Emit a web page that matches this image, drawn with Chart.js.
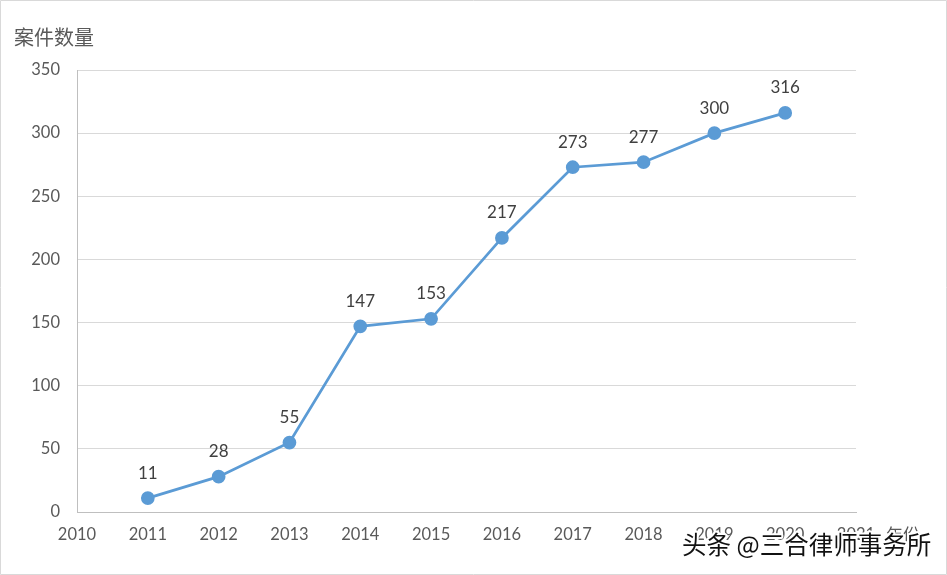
<!DOCTYPE html>
<html>
<head>
<meta charset="utf-8">
<script src="https://cdn.jsdelivr.net/npm/chart.js@4"></script>
<style>
  html, body { margin: 0; padding: 0; background: #fff; }
  #wrap { width: 947px; height: 575px; position: relative; }
</style>
</head>
<body>
<div id="wrap"><canvas id="lineChart" width="947" height="575"></canvas></div>
<script>
// Daten
const years = [2011, 2012, 2013, 2014, 2015, 2016, 2017, 2018, 2019, 2020];
const cases = [11, 28, 55, 147, 153, 217, 273, 277, 300, 316];
const yTitle = '案件数量';
const xTitle = '年份';
const watermark = '头条 @三合律师事务所';

const numFont = "'Lato', 'Noto Sans CJK SC', sans-serif";
const cjkFont = "'Noto Sans CJK SC', sans-serif";

// Beschriftungen, Achsentitel und Wasserzeichen
const extras = {
  id: 'extras',
  afterDatasetsDraw(chart) {
    const ctx = chart.ctx;
    const meta = chart.getDatasetMeta(0);
    ctx.save();
    ctx.font = '17px ' + numFont;
    ctx.fillStyle = '#404040';
    ctx.textAlign = 'center';
    ctx.textBaseline = 'middle';
    meta.data.forEach((pt, i) => {
      ctx.fillText(String(cases[i]), pt.x, pt.y - 25);
    });
    ctx.restore();
  },
  afterDraw(chart) {
    const ctx = chart.ctx;
    ctx.save();
    ctx.font = '20px ' + cjkFont;
    ctx.fillStyle = '#595959';
    ctx.textBaseline = 'middle';
    ctx.textAlign = 'left';
    ctx.fillText(yTitle, 14, 37);
    ctx.font = '17px ' + cjkFont;
    ctx.fillText(xTitle, 886, 535);

    // Wasserzeichen
    ctx.font = '24.5px ' + cjkFont;
    ctx.lineWidth = 4;
    ctx.strokeStyle = '#ffffff';
    ctx.lineJoin = 'round';
    ctx.strokeText(watermark, 682, 545);
    ctx.fillStyle = '#111111';
    ctx.fillText(watermark, 682, 545);

    // Rahmen
    ctx.strokeStyle = '#d9d9d9';
    ctx.lineWidth = 1;
    ctx.strokeRect(0.5, 0.5, 946, 574);
    ctx.restore();
  }
};

const ctx = document.getElementById('lineChart').getContext('2d');
new Chart(ctx, {
  type: 'line',
  data: {
    datasets: [{
      data: years.map((y, i) => ({ x: y, y: cases[i] })),
      borderColor: '#5b9bd5',
      backgroundColor: '#5b9bd5',
      borderWidth: 2.75,
      pointRadius: 5.5,
      pointBackgroundColor: '#5b9bd5',
      pointBorderColor: '#5b9bd5',
      tension: 0
    }]
  },
  options: {
    responsive: false,
    animation: false,
    layout: { padding: { left: 0, top: 70, right: 91, bottom: 0 } },
    plugins: { legend: { display: false }, tooltip: { enabled: false } },
    scales: {
      x: {
        type: 'linear',
        min: 2010,
        max: 2021,
        afterFit: s => { s.height = 63; },
        grid: { display: false, drawTicks: false },
        border: { display: true, color: '#bfbfbf', width: 1 },
        ticks: {
          stepSize: 1,
          padding: 13,
          color: '#595959',
          font: { size: 16.5, family: numFont },
          callback: v => String(v)
        }
      },
      y: {
        min: 0,
        max: 350,
        afterFit: s => { s.width = 77; },
        grid: { color: '#d9d9d9', drawTicks: false },
        border: { display: true, color: '#bfbfbf', width: 1 },
        ticks: {
          stepSize: 50,
          padding: 17,
          color: '#595959',
          font: { size: 16.5, family: numFont }
        }
      }
    }
  },
  plugins: [extras]
});
</script>
</body>
</html>
